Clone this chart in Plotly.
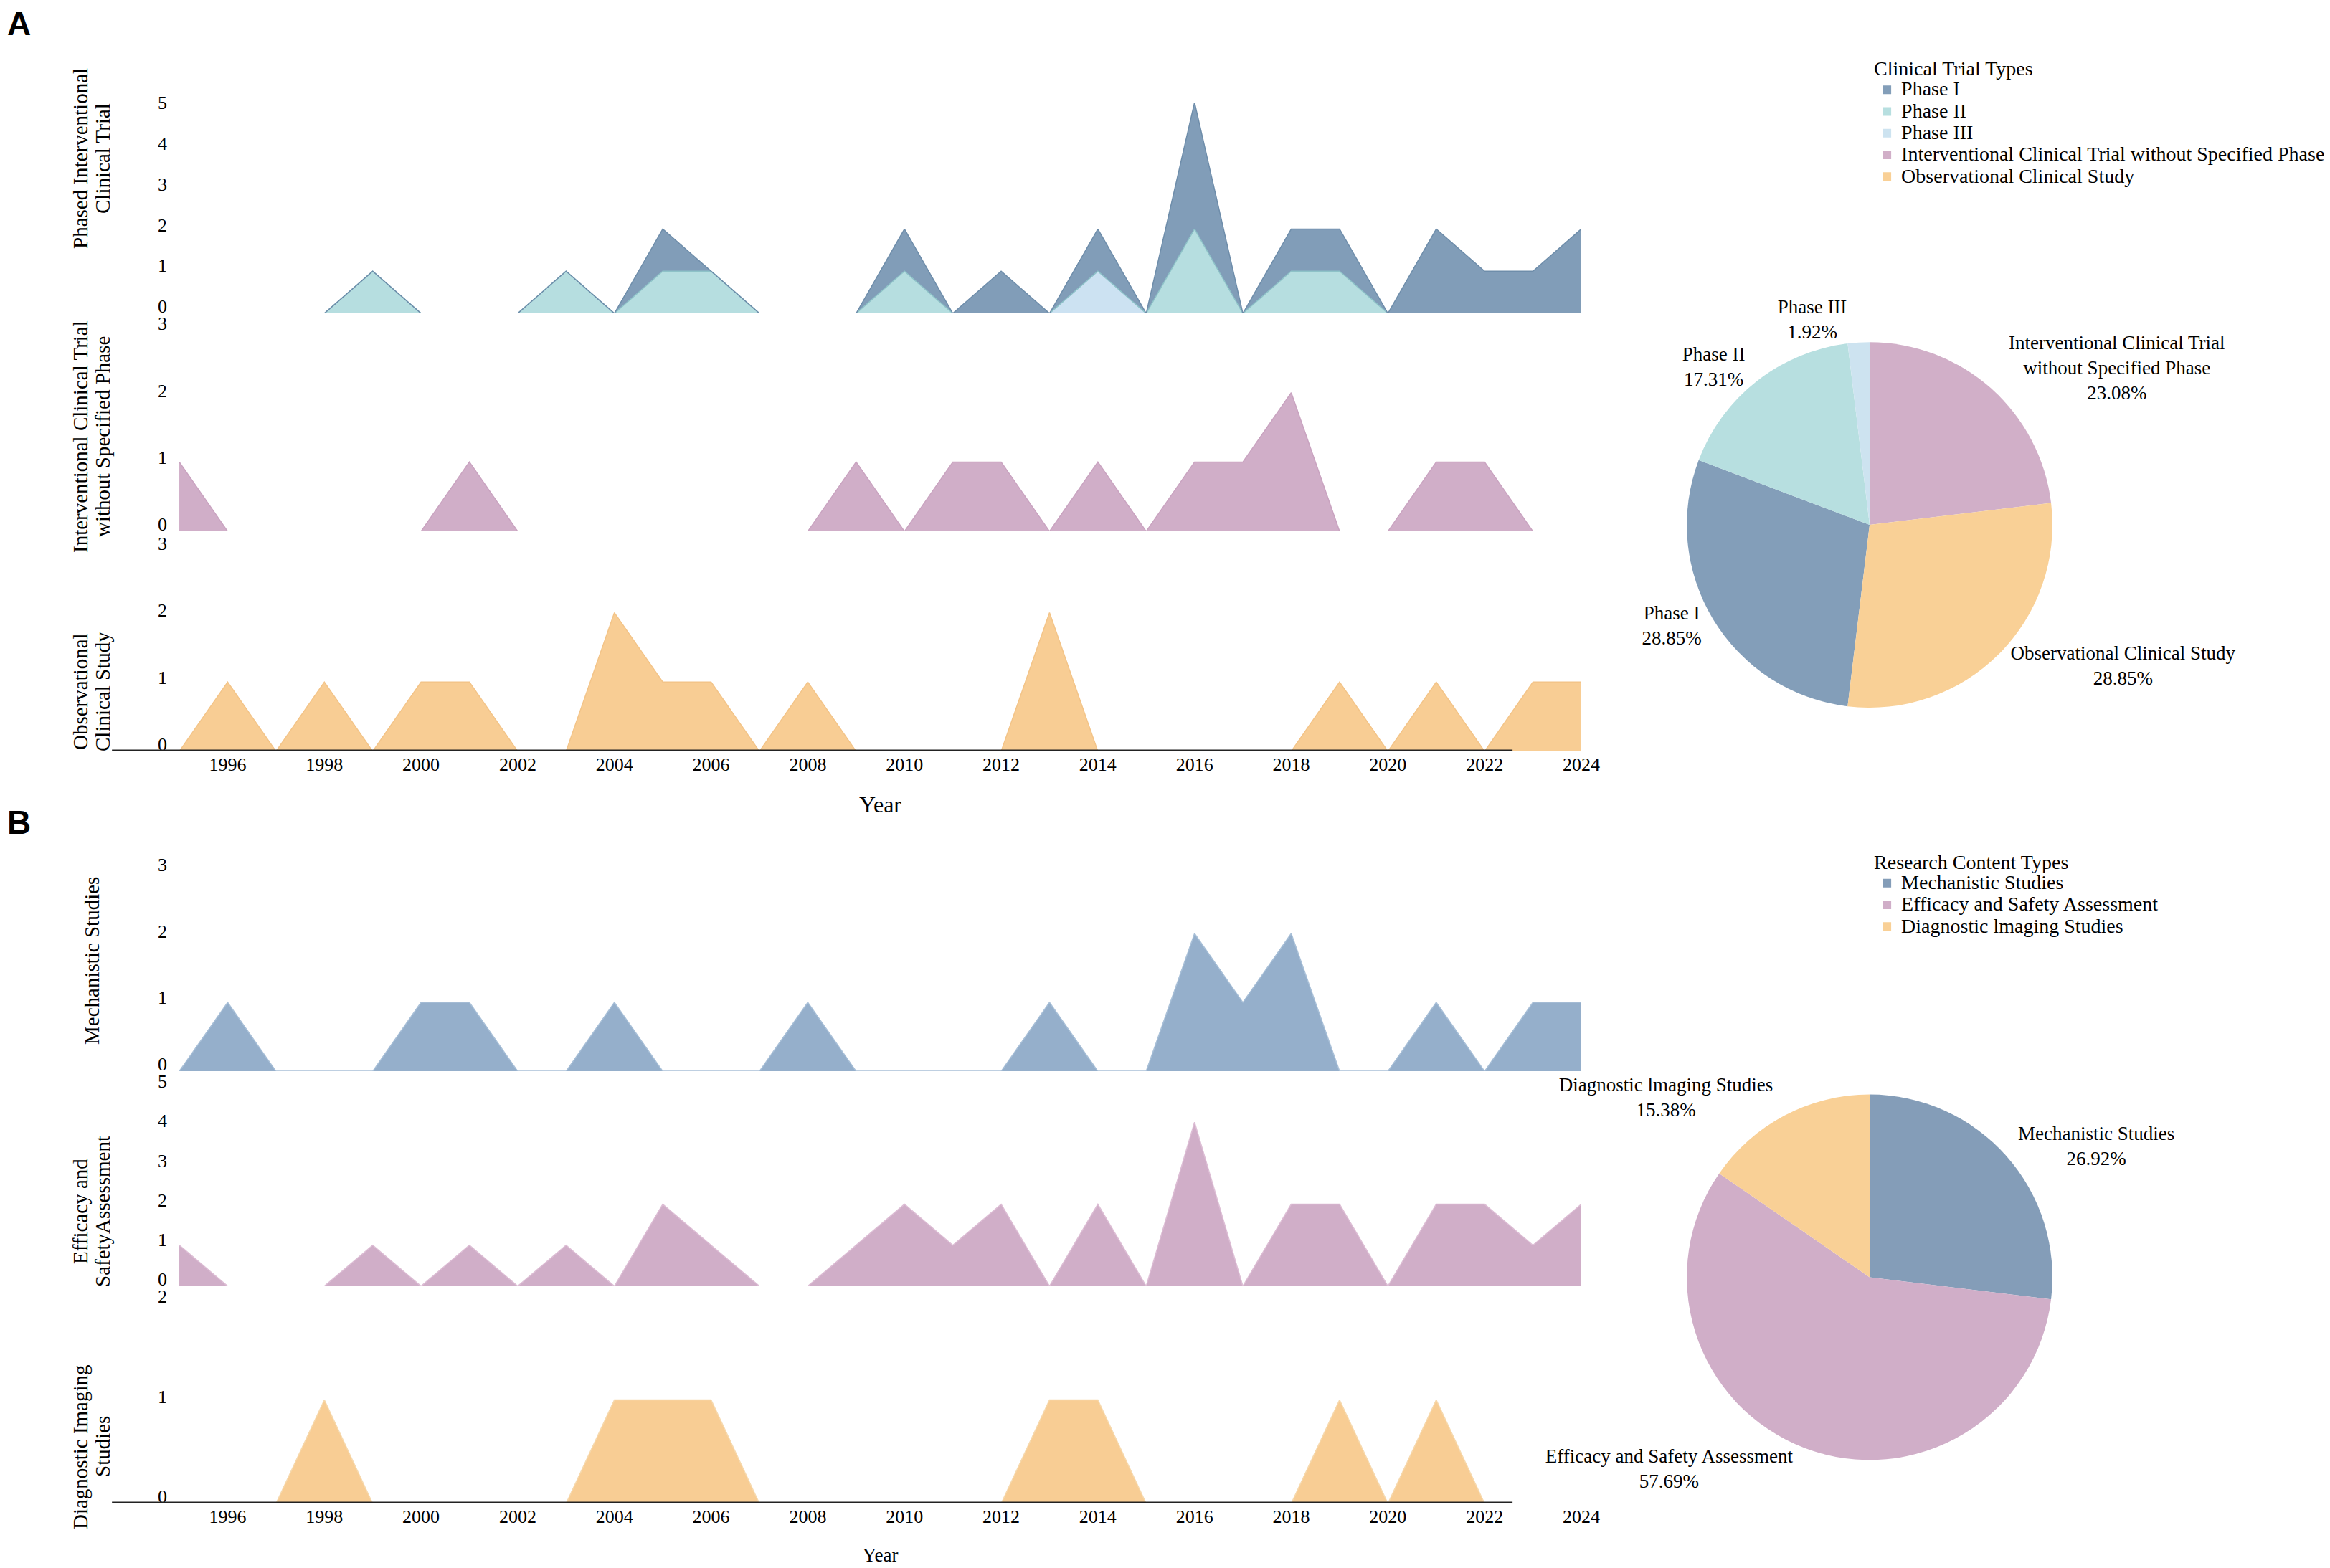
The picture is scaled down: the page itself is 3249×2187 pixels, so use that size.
import plotly.graph_objects as go

# x axis: one point per year
years = list(range(1995, 2025))
year_ticks = list(range(1996, 2025, 2))

# panel A - clinical trial types, counts per year 1995..2024
phase_1 = [0, 0, 0, 0, 0, 0, 0, 0, 0, 0, 1, 0, 0, 0, 0,
           1, 0, 1, 0, 1, 0, 3, 0, 1, 1, 0, 2, 1, 1, 2]
phase_2 = [0, 0, 0, 0, 1, 0, 0, 0, 1, 0, 1, 1, 0, 0, 0,
           1, 0, 0, 0, 0, 0, 2, 0, 1, 1, 0, 0, 0, 0, 0]
phase_3 = [0, 0, 0, 0, 0, 0, 0, 0, 0, 0, 0, 0, 0, 0, 0,
           0, 0, 0, 0, 1, 0, 0, 0, 0, 0, 0, 0, 0, 0, 0]
no_phase = [1, 0, 0, 0, 0, 0, 1, 0, 0, 0, 0, 0, 0, 0, 1,
            0, 1, 1, 0, 1, 0, 1, 1, 2, 0, 0, 1, 1, 0, 0]
observational = [0, 1, 0, 1, 0, 1, 1, 0, 0, 2, 1, 1, 0, 1, 0,
                 0, 0, 0, 2, 0, 0, 0, 0, 0, 1, 0, 1, 0, 1, 1]

# panel B - research content types, counts per year 1995..2024
mechanistic = [0, 1, 0, 0, 0, 1, 1, 0, 0, 1, 0, 0, 0, 1, 0,
               0, 0, 0, 1, 0, 0, 2, 1, 2, 0, 0, 1, 0, 1, 1]
efficacy = [1, 0, 0, 0, 1, 0, 1, 0, 1, 0, 2, 1, 0, 0, 1,
            2, 1, 2, 0, 2, 0, 4, 0, 2, 2, 0, 2, 2, 1, 2]
imaging = [0, 0, 0, 1, 0, 0, 0, 0, 0, 1, 1, 1, 0, 0, 0,
           0, 0, 0, 1, 1, 0, 0, 0, 0, 1, 0, 1, 0, 0, 0]

trial_labels = ["Phase I", "Phase II", "Phase III",
                "Interventional Clinical Trial without Specified Phase",
                "Observational Clinical Study"]
trial_pie_text = ["Phase I", "Phase II", "Phase III",
                  "Interventional Clinical Trial<br>without Specified Phase",
                  "Observational Clinical Study"]
content_labels = ["Mechanistic Studies", "Efficacy and Safety Assessment",
                  "Diagnostic lmaging Studies"]

FONT = "Liberation Serif"
W, H = 3249, 2187
BLUE, TEAL, LIGHT = "#819DB8", "#B6DEE0", "#CCE2F2"
PINK, ORANGE, BLUE_B = "#D0AEC8", "#F8CD94", "#95AFCB"

fig = go.Figure()


def area(y, fill, line, k, group=None):
    ax = "" if k == 1 else str(k)
    kw = dict(stackgroup=group) if group else dict(fill="tozeroy")
    fig.add_trace(go.Scatter(
        x=years, y=y, mode="lines", fillcolor=fill,
        line=dict(color=line, width=1.5),
        xaxis="x" + ax, yaxis="y" + ax,
        showlegend=False, hoverinfo="x+y", **kw))


def big(names):
    # legend rows are tight in the reference, so the row height follows a
    # small legend font while the label itself is drawn larger
    return ['<span style="font-size:28px">%s</span>' % n for n in names]


# stacked phases (bottom to top)
area(phase_3, LIGHT, "#B5D3E8", 1, "phase")
area(phase_2, TEAL, "#8EC2C8", 1, "phase")
area(phase_1, BLUE, "#6E8DAA", 1, "phase")
area(no_phase, PINK, "#C9A3C0", 2)
area(observational, ORANGE, "#F3C488", 3)
area(mechanistic, BLUE_B, "#A9C0D8", 4)
area(efficacy, PINK, "#DDBED5", 5)
area(imaging, ORANGE, "#F6D9AE", 6)

# pies
trial_values = [sum(phase_1), sum(phase_2), sum(phase_3), sum(no_phase), sum(observational)]
content_values = [sum(mechanistic), sum(efficacy), sum(imaging)]
phased_share = sum(trial_values[:3]) / sum(trial_values)

fig.add_trace(go.Pie(
    labels=big(trial_labels), values=trial_values, text=trial_pie_text,
    texttemplate="%{text}<br>%{percent:.2%}", textposition="outside",
    sort=False, direction="clockwise", rotation=360 * (1 - phased_share),
    marker=dict(colors=["#839EB9", "#B7DFE0", "#CDE3F0", "#D1AFC8", "#F9D096"],
                line=dict(width=0)),
    textfont=dict(family=FONT, size=27, color="black"),
    domain=dict(x=[0.7215, 0.8784], y=[0.5523, 0.7855]),
    legend="legend", hoverinfo="text+value+percent"))

fig.add_trace(go.Pie(
    labels=big(content_labels), values=content_values, text=content_labels,
    texttemplate="%{text}<br>%{percent:.2%}", textposition="outside",
    sort=False, direction="clockwise", rotation=0,
    marker=dict(colors=["#849DB8", "#D0AEC8", "#F9D096"], line=dict(width=0)),
    textfont=dict(family=FONT, size=27, color="black"),
    domain=dict(x=[0.7215, 0.8784], y=[0.0725, 0.3057]),
    legend="legend2", hoverinfo="text+value+percent"))

# stacked subplot rows: (y domain, y max, axis title, title centre in px from top)
rows = [
    ([0.8038, 0.9383], 5, "Phased Interventional<br>Clinical Trial", 213),
    ([0.6648, 0.7974], 3, "Interventional Clinical Trial<br>without Specified Phase", 601),
    ([0.5245, 0.6571], 3, "Observational<br>Clinical Study", 957),
    ([0.3205, 0.4522], 3, "Mechanistic Studies", 1332),
    ([0.1834, 0.3141], 5, "Efficacy and<br>SafetyAssessment", 1682),
    ([0.0448, 0.1770], 2, "Diagnostic Imaging<br>Studies", 2010),
]
x_dom = [0.0745, 0.6762]
tick_font = dict(family=FONT, size=26, color="black")
layout_axes = {}
for k, (ydom, ymax, title, title_px) in enumerate(rows, start=1):
    ax = "" if k == 1 else str(k)
    lab = str(6 + k)
    bottom = k in (3, 6)
    layout_axes["xaxis" + ax] = dict(
        domain=x_dom, range=[1995, 2024], anchor="y" + ax,
        showgrid=False, zeroline=False, showline=False, ticks="",
        tickvals=year_ticks, showticklabels=bottom, automargin=False,
        tickfont=tick_font,
        title=dict(text="Year" if bottom else "",
                   font=dict(family=FONT, size=32 if k == 3 else 27, color="black"),
                   standoff=30))
    layout_axes["yaxis" + ax] = dict(
        domain=ydom, range=[0, ymax], anchor="x" + ax,
        showgrid=False, zeroline=False, showline=False, ticks="",
        showticklabels=False, automargin=False)
    # label axis: the tick numbers sit a little above the data baseline
    dom_px = (ydom[1] - ydom[0]) * H
    pad = ymax * 10 / (dom_px - 10)
    layout_axes["yaxis" + lab] = dict(
        overlaying="y" + ax, anchor="x" + ax, side="left",
        range=[-pad, ymax], dtick=1, ticklabelstandoff=16,
        showgrid=False, zeroline=False, showline=False, ticks="",
        automargin=False, tickfont=tick_font)
    fig.add_trace(go.Scatter(x=[], y=[], xaxis="x" + ax, yaxis="y" + lab,
                             showlegend=False, hoverinfo="skip"))
    # rotated y title, one annotation per line so the lines sit close together
    lines = title.split("<br>")
    xs = [120] if len(lines) == 1 else [104, 135]
    for line, xpx in zip(lines, xs):
        fig.add_annotation(text=line, textangle=-90, x=xpx / W, y=1 - title_px / H,
                           xref="paper", yref="paper", xanchor="center", yanchor="middle",
                           showarrow=False, font=dict(family=FONT, size=29, color="black"))
fig.update_layout(**layout_axes)

# thick baseline under the bottom row of each panel
for yref in ("y3", "y6"):
    fig.add_shape(type="line", xref="paper", yref=yref, x0=0.0456, x1=0.6467,
                  y0=0, y1=0, line=dict(color="#222222", width=5))

fig.add_annotation(text="<b>A</b>", x=0.0, y=1.0, yshift=3,
                   xref="paper", yref="paper",
                   xanchor="left", yanchor="top", showarrow=False,
                   font=dict(family="Liberation Sans", size=46, color="black"))
fig.add_annotation(text="<b>B</b>", x=0.0, y=0.492,
                   xref="paper", yref="paper",
                   xanchor="left", yanchor="top", showarrow=False,
                   font=dict(family="Liberation Sans", size=46, color="black"))

legend_style = dict(xanchor="left", yanchor="top", bgcolor="rgba(0,0,0,0)",
                    font=dict(family=FONT, size=21, color="black"),
                    traceorder="normal", tracegroupgap=0, itemclick=False)
fig.update_layout(
    template="none",
    width=W, height=H,
    margin=dict(l=0, r=0, t=0, b=0),
    paper_bgcolor="white", plot_bgcolor="white",
    font=dict(family=FONT, color="black"),
    legend=dict(title=dict(text="Clinical Trial Types",
                           font=dict(family=FONT, size=28, color="black")),
                x=0.8012, y=0.9723, **legend_style),
    legend2=dict(title=dict(text="Research Content Types",
                            font=dict(family=FONT, size=28, color="black")),
                 x=0.8012, y=0.4663, **legend_style),
)

fig.write_html("out.html")
